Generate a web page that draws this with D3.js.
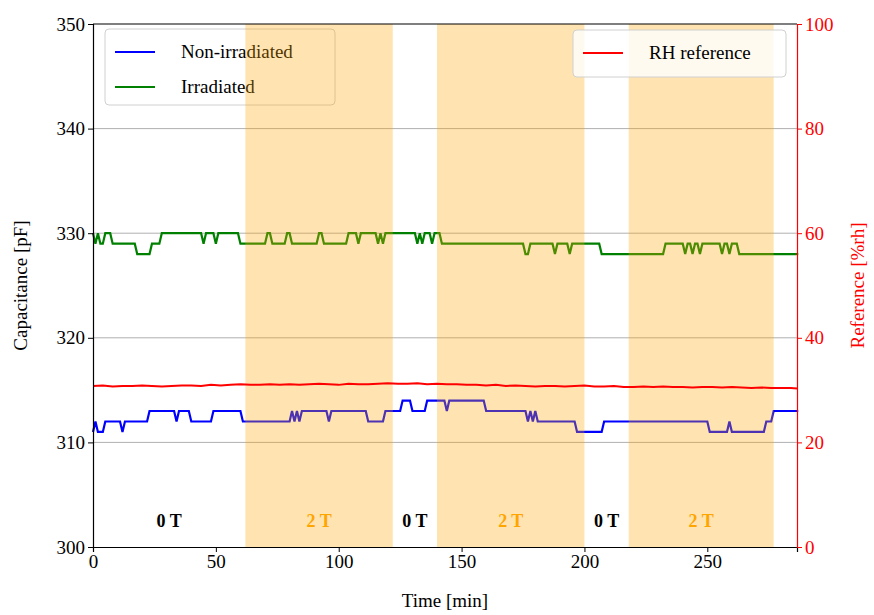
<!DOCTYPE html>
<html>
<head>
    <meta charset="UTF-8">
    <title>Capacitance vs time</title>
    <style>
        body { margin: 0; background: #fff; }
        text { font-family: "Liberation Serif", "Times New Roman", serif; }
    </style>
    <script src="https://d3js.org/d3.v7.min.js"></script>
</head>
<body>
<div id="chart"></div>
<script>
    // Non-irradiated sensor, [time min, capacitance pF]
    const nonIrrTime = [0,1,2,4,5,11,12,13,22,23,33,34,35,39,40,48,49,60,61,80,81,82,83,84,85,95,96,97,111,112,118,119,125,126,129,130,135,136,143,144,145,159,160,176,177,178,179,180,181,196,197,207,208,250,251,258,259,260,273,274,276,277,287];
    const nonIrrCap  = [311,312,311,311,312,312,311,312,312,313,313,312,313,313,312,312,313,313,312,312,313,312,313,312,313,313,312,313,313,312,312,313,313,314,314,313,313,314,314,313,314,314,313,313,312,313,312,313,312,312,311,311,312,312,311,311,312,311,311,312,312,313,313];

    // Irradiated sensor
    const irrTime = [0,1,2,3,4,5,7,8,17,18,23,24,27,28,44,45,46,49,50,51,59,60,70,71,72,73,78,79,80,81,91,92,93,94,103,104,107,108,109,115,116,117,118,119,131,132,133,134,135,137,138,139,141,142,175,176,177,178,187,188,189,193,194,195,206,207,232,233,240,241,242,243,244,245,246,247,248,255,256,257,258,259,260,262,263,287];
    const irrCap  = [330,329,330,329,329,330,330,329,329,328,328,329,329,330,330,329,330,330,329,330,330,329,329,330,330,329,329,330,330,329,329,330,330,329,329,330,330,329,330,330,329,330,329,330,330,329,330,329,330,330,329,330,330,329,329,328,328,329,329,328,329,329,328,329,329,328,328,329,329,328,329,329,328,329,329,328,329,329,328,329,329,328,329,329,328,328];

    // RH reference [%rh], sampled every 4 min from t = 0
    const rhStep = 4;
    const rhValues = [30.8,30.9,30.7,30.8,30.8,30.9,30.8,30.7,30.8,30.9,30.9,30.8,31.0,30.9,31.0,31.1,31.0,31.0,31.1,31.0,31.1,31.0,31.1,31.2,31.1,31.0,31.2,31.1,31.1,31.2,31.3,31.2,31.2,31.3,31.1,31.2,31.1,31.1,31.0,31.0,30.9,31.0,30.8,30.9,30.8,30.7,30.8,30.8,30.7,30.8,30.9,30.7,30.7,30.8,30.6,30.6,30.7,30.6,30.7,30.6,30.6,30.5,30.6,30.6,30.5,30.6,30.5,30.4,30.5,30.4,30.4,30.4,30.3];

    // magnetic field periods
    const fieldStart = [0, 62, 122, 140, 200, 218];
    const fieldEnd   = [62, 122, 140, 200, 218, 277];
    const fieldLabel = ["0 T", "2 T", "0 T", "2 T", "0 T", "2 T"];

    const xTicks = [0, 50, 100, 150, 200, 250];
    const capTicks = [300, 310, 320, 330, 340, 350];
    const rhTicks = [0, 20, 40, 60, 80, 100];

    const W = 874, H = 615;
    const margin = {top: 24, right: 77, bottom: 68, left: 93};
    const width = W - margin.left - margin.right;
    const height = H - margin.top - margin.bottom;

    const svg = d3.select("#chart").append("svg")
        .attr("width", W).attr("height", H);
    const g = svg.append("g")
        .attr("transform", `translate(${margin.left},${margin.top})`);

    const x = d3.scaleLinear().domain([0, 286.5]).range([0, width]);
    const y = d3.scaleLinear().domain([300, 350]).range([height, 0]);
    const y2 = d3.scaleLinear().domain([0, 100]).range([height, 0]);

    // grid
    g.append("g")
        .selectAll("line")
        .data(capTicks.slice(1, -1))
        .join("line")
            .attr("x1", 0).attr("x2", width)
            .attr("y1", d => y(d)).attr("y2", d => y(d))
            .attr("stroke", "#b0b0b0").attr("stroke-width", 1);

    const line = d3.line().x(d => x(d[0])).y(d => y(d[1]));
    g.append("path")
        .datum(d3.zip(nonIrrTime, nonIrrCap))
        .attr("fill", "none").attr("stroke", "blue").attr("stroke-width", 2.2)
        .attr("d", line);
    g.append("path")
        .datum(d3.zip(irrTime, irrCap))
        .attr("fill", "none").attr("stroke", "green").attr("stroke-width", 2.2)
        .attr("d", line);

    // left legend
    const leg1 = g.append("g").attr("transform", "translate(12,5)");
    leg1.append("rect")
        .attr("width", 230).attr("height", 76).attr("rx", 4)
        .attr("fill", "white").attr("fill-opacity", 0.8)
        .attr("stroke", "#d0d0d0");
    [["Non-irradiated", "blue"], ["Irradiated", "green"]].forEach((e, i) => {
        const yy = 23 + i * 35;
        leg1.append("line").attr("x1", 10).attr("x2", 50).attr("y1", yy).attr("y2", yy)
            .attr("stroke", e[1]).attr("stroke-width", 2.2);
        leg1.append("text").attr("x", 76).attr("y", yy + 6)
            .attr("font-size", 19).attr("fill", "#000").text(e[0]);
    });

    // shaded 2 T periods
    g.append("g")
        .selectAll("rect")
        .data(fieldStart.map((s, i) => ({s, e: fieldEnd[i], l: fieldLabel[i]})).filter(d => d.l === "2 T"))
        .join("rect")
            .attr("x", d => x(d.s)).attr("width", d => x(d.e) - x(d.s))
            .attr("y", 0).attr("height", height)
            .attr("fill", "orange").attr("fill-opacity", 0.3);

    // RH line
    const rhLine = d3.line().x((d, i) => x(Math.min(i * rhStep, 286.5))).y(d => y2(d));
    g.append("path")
        .datum(rhValues)
        .attr("fill", "none").attr("stroke", "red").attr("stroke-width", 2)
        .attr("d", rhLine);

    // field labels
    g.append("g")
        .selectAll("text")
        .data(fieldStart.map((s, i) => ({s, e: fieldEnd[i], l: fieldLabel[i]})))
        .join("text")
            .attr("x", d => x((d.s + d.e) / 2))
            .attr("y", y(302.5) + 6)
            .attr("text-anchor", "middle")
            .attr("font-size", 18).attr("font-weight", "bold")
            .attr("fill", d => d.l === "2 T" ? "orange" : "black")
            .text(d => d.l);

    // right legend
    const leg2 = g.append("g").attr("transform", `translate(${width - 224},6)`);
    leg2.append("rect")
        .attr("width", 213).attr("height", 47).attr("rx", 4)
        .attr("fill", "white").attr("fill-opacity", 0.8)
        .attr("stroke", "#d0d0d0");
    leg2.append("line").attr("x1", 10).attr("x2", 50).attr("y1", 23).attr("y2", 23)
        .attr("stroke", "red").attr("stroke-width", 2);
    leg2.append("text").attr("x", 76).attr("y", 29)
        .attr("font-size", 19).text("RH reference");

    // axes
    const xAxis = g.append("g").attr("transform", `translate(0,${height})`)
        .call(d3.axisBottom(x).tickValues(xTicks).tickSize(5).tickPadding(3));
    const yAxis = g.append("g")
        .call(d3.axisLeft(y).tickValues(capTicks).tickSize(5).tickPadding(3));
    const y2Axis = g.append("g").attr("transform", `translate(${width},0)`)
        .call(d3.axisRight(y2).tickValues(rhTicks).tickSize(5).tickPadding(3));
    [xAxis, yAxis, y2Axis].forEach(a => {
        a.selectAll("text").attr("font-size", 19).attr("font-family", "Liberation Serif").attr("fill", "#000");
        a.selectAll("line").attr("stroke", "#000");
        a.select(".domain").attr("stroke", "#000").attr("stroke-width", 1.2);
    });
    y2Axis.selectAll("text").attr("fill", "red");
    y2Axis.selectAll("line").attr("stroke", "red");
    y2Axis.select(".domain").attr("stroke", "red");
    g.append("line").attr("x1", 0).attr("x2", width).attr("y1", 0).attr("y2", 0)
        .attr("stroke", "#000").attr("stroke-width", 1.2);

    // axis labels
    g.append("text").attr("x", width / 2).attr("y", height + 60)
        .attr("text-anchor", "middle").attr("font-size", 19).text("Time [min]");
    g.append("text").attr("transform", `translate(-66,${height / 2}) rotate(-90)`)
        .attr("text-anchor", "middle").attr("font-size", 19).text("Capacitance [pF]");
    g.append("text").attr("transform", `translate(${width + 67},${height / 2}) rotate(-90)`)
        .attr("text-anchor", "middle").attr("font-size", 19).attr("fill", "red").text("Reference [%rh]");
</script>
</body>
</html>
